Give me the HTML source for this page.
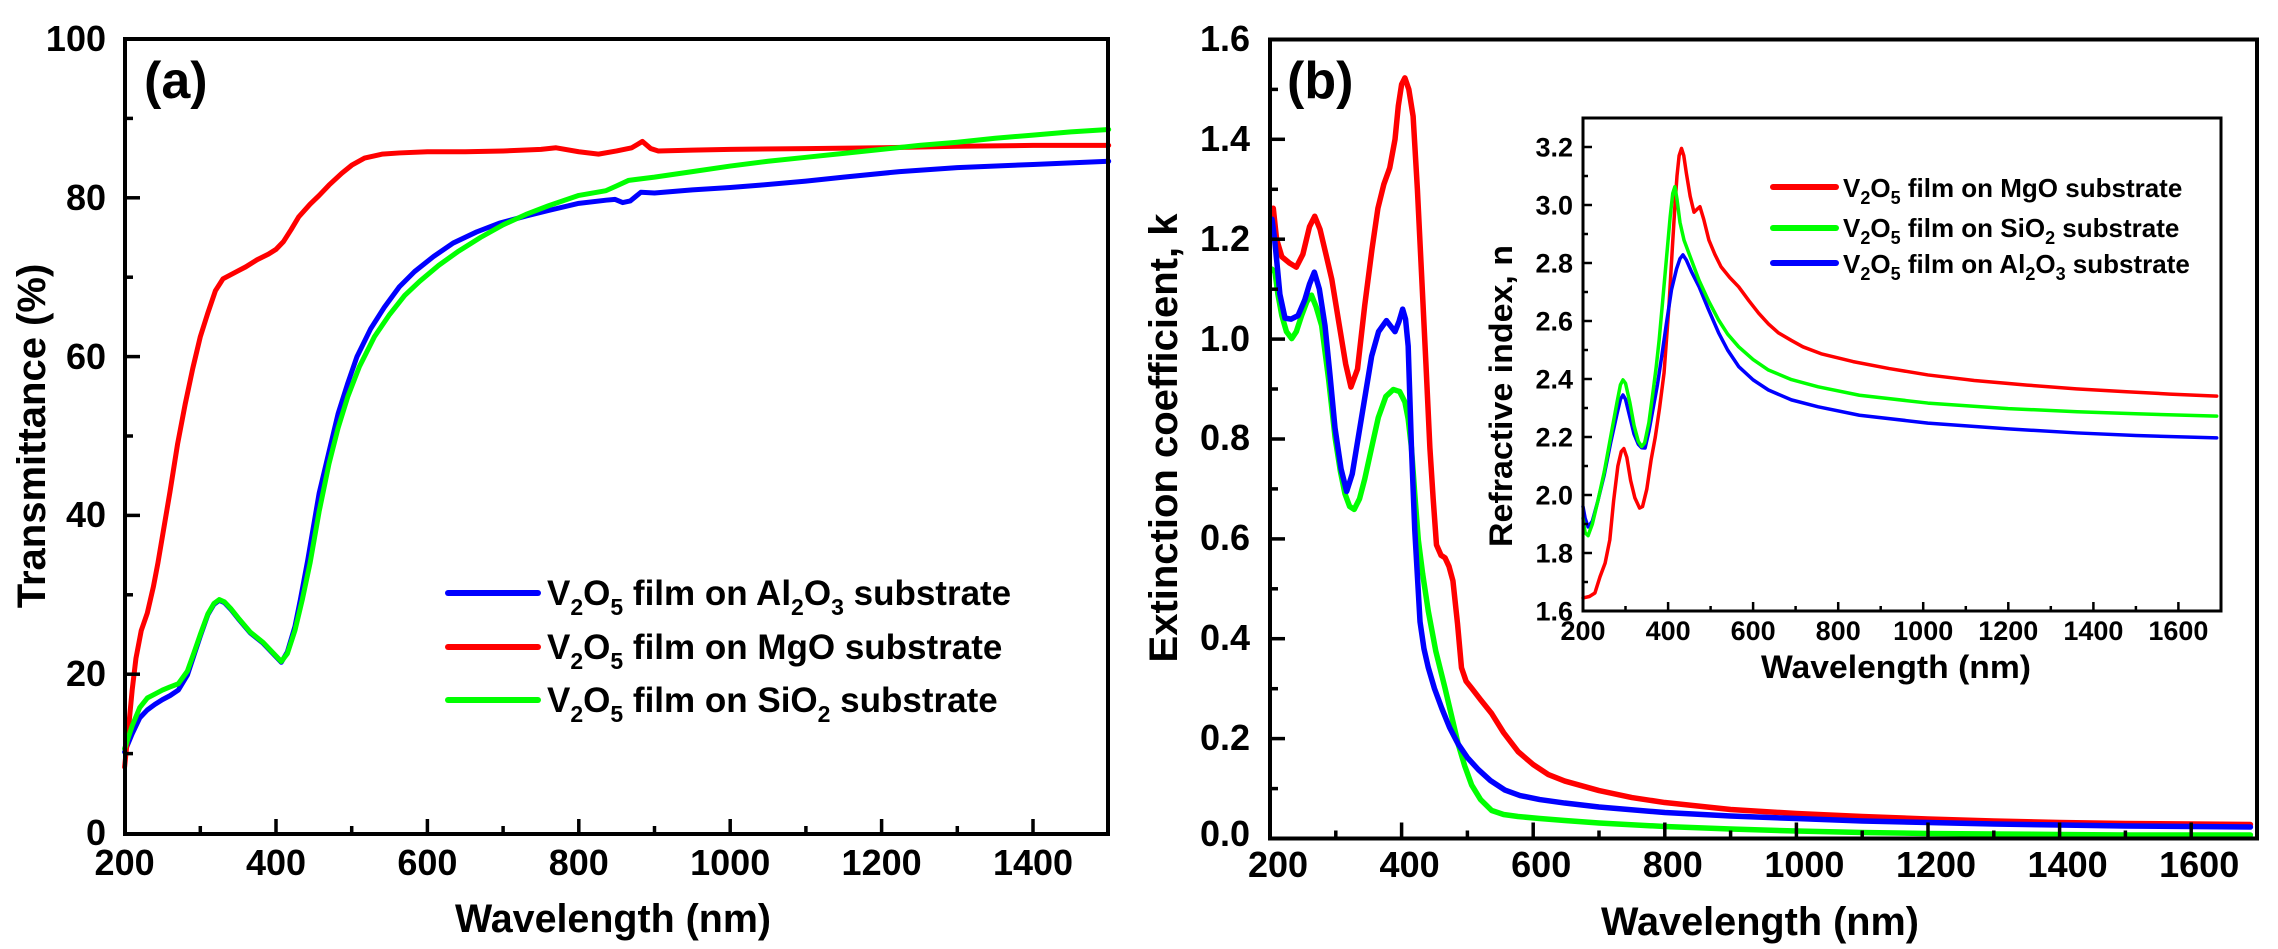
<!DOCTYPE html>
<html><head><meta charset="utf-8"><style>
html,body{margin:0;padding:0;background:#fff;}
svg{display:block;font-family:"Liberation Sans",Arial,sans-serif;font-weight:bold;}
.c{fill:none;stroke-linejoin:round;stroke-linecap:round;}
</style></head><body>
<svg width="2278" height="949" viewBox="0 0 2278 949" xmlns="http://www.w3.org/2000/svg">
<rect width="2278" height="949" fill="#fff"/>

<!-- ============ PANEL (a) ============ -->
<g transform="matrix(0.757 0 0 -7.94 -26.8 833)">
<path class="c" vector-effect="non-scaling-stroke" stroke="#0000ff" stroke-width="5" d="M200 10.2 L210 12.5 L220 14.5 L230 15.5 L240 16.2 L250 16.8 L260 17.3 L271 18 L283 19.9 L292 22.5 L300 24.8 L310 27.5 L318 28.8 L325 29.3 L332 29 L340 28.2 L350 27 L366 25.2 L383 23.9 L395 22.7 L407 21.5 L415 22.8 L425 26 L432 29.3 L442 34.4 L457 42.8 L470 48 L482 52.8 L495 56.7 L507 60 L525 63.5 L543 66.2 L563 68.8 L583 70.7 L608 72.6 L634 74.3 L665 75.7 L695 76.8 L730 77.7 L760 78.4 L800 79.3 L836 79.7 L848 79.8 L858 79.4 L868 79.6 L882 80.7 L900 80.6 L950 81 L1000 81.3 L1040 81.6 L1100 82.1 L1150 82.6 L1224 83.3 L1300 83.8 L1400 84.2 L1500 84.6"/>
<path class="c" vector-effect="non-scaling-stroke" stroke="#ff0000" stroke-width="5" d="M200 8.3 L205 13 L210 18 L215 22 L222 25.5 L230 27.7 L238 31 L244 34 L252 38.5 L260 43 L270 49 L280 54 L290 58.5 L300 62.5 L310 65.5 L320 68.3 L330 69.8 L340 70.3 L350 70.8 L360 71.3 L375 72.2 L390 72.9 L400 73.5 L410 74.5 L420 76 L430 77.6 L445 79.2 L457 80.3 L470 81.6 L487 83.1 L500 84.1 L517 85 L540 85.5 L563 85.65 L600 85.8 L650 85.8 L700 85.9 L750 86.1 L770 86.3 L800 85.8 L826 85.5 L850 85.9 L870 86.3 L884 87.1 L895 86.2 L905 85.9 L950 86 L1000 86.1 L1100 86.2 L1200 86.3 L1300 86.5 L1400 86.6 L1500 86.6"/>
<path class="c" vector-effect="non-scaling-stroke" stroke="#00ff00" stroke-width="5" d="M200 10.6 L210 13.5 L220 15.8 L230 17 L240 17.5 L250 18 L260 18.4 L271 18.8 L283 20.4 L292 22.8 L300 25 L310 27.6 L318 28.9 L325 29.4 L332 29.1 L340 28.3 L350 27.1 L366 25.3 L383 24 L395 22.8 L407 21.6 L415 22.6 L425 25.5 L435 29.5 L445 34 L457 40.5 L470 46.5 L482 51 L495 55 L510 58.7 L530 62.5 L550 65.3 L570 67.7 L590 69.5 L615 71.5 L640 73.2 L670 75 L700 76.6 L730 77.9 L760 79 L800 80.3 L836 80.9 L850 81.5 L866 82.2 L900 82.6 L950 83.3 L1000 84 L1050 84.6 L1100 85.1 L1150 85.6 L1200 86.1 L1250 86.6 L1300 87 L1350 87.5 L1400 87.9 L1450 88.3 L1500 88.6"/>
</g>
<rect x="125" y="39" width="983" height="795" fill="none" stroke="#000" stroke-width="4"/>
<g stroke="#000" stroke-width="3.5">
<line x1="200.3" y1="834" x2="200.3" y2="826"/>
<line x1="276" y1="834" x2="276" y2="819"/>
<line x1="351.7" y1="834" x2="351.7" y2="826"/>
<line x1="427.4" y1="834" x2="427.4" y2="819"/>
<line x1="503.1" y1="834" x2="503.1" y2="826"/>
<line x1="578.8" y1="834" x2="578.8" y2="819"/>
<line x1="654.5" y1="834" x2="654.5" y2="826"/>
<line x1="730.2" y1="834" x2="730.2" y2="819"/>
<line x1="805.9" y1="834" x2="805.9" y2="826"/>
<line x1="881.6" y1="834" x2="881.6" y2="819"/>
<line x1="957.3" y1="834" x2="957.3" y2="826"/>
<line x1="1033" y1="834" x2="1033" y2="819"/>
<line x1="125" y1="753.6" x2="133" y2="753.6"/>
<line x1="125" y1="674.2" x2="140" y2="674.2"/>
<line x1="125" y1="594.8" x2="133" y2="594.8"/>
<line x1="125" y1="515.4" x2="140" y2="515.4"/>
<line x1="125" y1="436" x2="133" y2="436"/>
<line x1="125" y1="356.6" x2="140" y2="356.6"/>
<line x1="125" y1="277.2" x2="133" y2="277.2"/>
<line x1="125" y1="197.8" x2="140" y2="197.8"/>
<line x1="125" y1="118.4" x2="133" y2="118.4"/>
</g>
<g font-size="36" text-anchor="middle" fill="#000">
<text x="124.6" y="875">200</text>
<text x="276" y="875">400</text>
<text x="427.4" y="875">600</text>
<text x="578.8" y="875">800</text>
<text x="730.2" y="875">1000</text>
<text x="881.6" y="875">1200</text>
<text x="1033" y="875">1400</text>
</g>
<g font-size="36" text-anchor="end" fill="#000">
<text x="106" y="845">0</text>
<text x="106" y="686">20</text>
<text x="106" y="527">40</text>
<text x="106" y="369">60</text>
<text x="106" y="210">80</text>
<text x="106" y="51">100</text>
</g>
<text x="613" y="932" font-size="40" text-anchor="middle" textLength="316" lengthAdjust="spacingAndGlyphs">Wavelength (nm)</text>
<text transform="translate(45,436) rotate(-90)" font-size="40" text-anchor="middle">Transmittance (%)</text>
<text x="144" y="98" font-size="52">(a)</text>

<g stroke-width="6" stroke-linecap="round">
<line x1="448" y1="593" x2="538" y2="593" stroke="#0000ff"/>
<line x1="448" y1="647" x2="538" y2="647" stroke="#ff0000"/>
<line x1="448" y1="700" x2="538" y2="700" stroke="#00ff00"/>
</g>
<g font-size="35" fill="#000">
<text x="547" y="605">V<tspan font-size="23" dy="10">2</tspan><tspan dy="-10">O</tspan><tspan font-size="23" dy="10">5</tspan><tspan dy="-10"> film on Al</tspan><tspan font-size="23" dy="10">2</tspan><tspan dy="-10">O</tspan><tspan font-size="23" dy="10">3</tspan><tspan dy="-10"> substrate</tspan></text>
<text x="547" y="659">V<tspan font-size="23" dy="10">2</tspan><tspan dy="-10">O</tspan><tspan font-size="23" dy="10">5</tspan><tspan dy="-10"> film on MgO substrate</tspan></text>
<text x="547" y="712">V<tspan font-size="23" dy="10">2</tspan><tspan dy="-10">O</tspan><tspan font-size="23" dy="10">5</tspan><tspan dy="-10"> film on SiO</tspan><tspan font-size="23" dy="10">2</tspan><tspan dy="-10"> substrate</tspan></text>
</g>

<!-- ============ PANEL (b) ============ -->
<g transform="matrix(0.658 0 0 -499.4 1138.4 838.5)">
<path class="c" vector-effect="non-scaling-stroke" stroke="#00ff00" stroke-width="5.5" d="M203 1.14 L207.6 1.134 L212 1.09 L218 1.047 L225 1.015 L233 1.001 L240 1.015 L248 1.047 L256 1.075 L263 1.088 L270 1.065 L278.5 1.027 L289 0.92 L299 0.802 L307 0.735 L314 0.69 L321 0.665 L328 0.659 L336 0.68 L344 0.72 L354 0.78 L364.6 0.843 L376 0.885 L387.4 0.899 L397 0.895 L405 0.874 L410 0.84 L415 0.782 L420 0.69 L425.4 0.598 L432 0.53 L440.6 0.455 L452 0.375 L466 0.301 L476 0.245 L486 0.189 L496 0.145 L506.5 0.107 L520 0.078 L537 0.056 L555 0.048 L577 0.044 L610 0.04 L648 0.036 L700 0.031 L800 0.024 L900 0.019 L1000 0.015 L1100 0.012 L1200 0.01 L1300 0.009 L1400 0.008 L1500 0.007 L1600 0.007 L1690 0.007"/>
<path class="c" vector-effect="non-scaling-stroke" stroke="#ff0000" stroke-width="5.5" d="M205 1.262 L210 1.2 L218 1.165 L230 1.152 L240 1.144 L250 1.17 L260 1.225 L268 1.246 L276 1.22 L285 1.17 L294 1.119 L305 1.03 L315 0.95 L323 0.904 L333 0.94 L344 1.068 L355 1.18 L364 1.262 L373 1.31 L382 1.343 L390 1.4 L395 1.467 L400 1.51 L405 1.523 L411 1.5 L417.5 1.446 L424 1.3 L430 1.139 L437 0.95 L443 0.782 L448 0.68 L453 0.588 L460 0.567 L466 0.562 L472 0.545 L478 0.516 L485 0.43 L491 0.342 L498 0.315 L506.5 0.301 L520 0.278 L537 0.25 L555 0.212 L577 0.174 L600 0.148 L623 0.128 L648 0.115 L700 0.096 L750 0.082 L800 0.072 L900 0.058 L1000 0.05 L1100 0.044 L1200 0.039 L1300 0.035 L1400 0.032 L1500 0.03 L1600 0.029 L1690 0.028"/>
<path class="c" vector-effect="non-scaling-stroke" stroke="#0000ff" stroke-width="5.5" d="M203 1.24 L207 1.2 L210 1.16 L215 1.09 L222.8 1.042 L232 1.04 L242.6 1.047 L252.7 1.078 L260 1.11 L267.4 1.134 L275 1.1 L283.6 1.027 L291 0.93 L298.8 0.822 L308 0.74 L316.5 0.695 L325 0.73 L334 0.802 L345 0.89 L354.5 0.966 L365 1.015 L377 1.037 L384 1.025 L390 1.015 L396 1.035 L401.6 1.06 L406 1.04 L410 0.986 L415 0.782 L420 0.618 L428 0.434 L434 0.38 L440.6 0.342 L450 0.3 L461 0.261 L473 0.222 L486 0.189 L500 0.162 L516.6 0.138 L535 0.116 L557 0.097 L580 0.086 L610 0.078 L648 0.071 L700 0.063 L800 0.052 L900 0.045 L1000 0.04 L1100 0.035 L1200 0.032 L1300 0.029 L1400 0.027 L1500 0.025 L1600 0.024 L1690 0.023"/>
</g>
<rect x="1270" y="39.5" width="987" height="799" fill="none" stroke="#000" stroke-width="4"/>
<g stroke="#000" stroke-width="3.5">
<line x1="1335.8" y1="838.5" x2="1335.8" y2="830.5"/>
<line x1="1401.6" y1="838.5" x2="1401.6" y2="822.5"/>
<line x1="1467.4" y1="838.5" x2="1467.4" y2="830.5"/>
<line x1="1533.2" y1="838.5" x2="1533.2" y2="822.5"/>
<line x1="1599" y1="838.5" x2="1599" y2="830.5"/>
<line x1="1664.8" y1="838.5" x2="1664.8" y2="822.5"/>
<line x1="1730.6" y1="838.5" x2="1730.6" y2="830.5"/>
<line x1="1796.4" y1="838.5" x2="1796.4" y2="822.5"/>
<line x1="1862.2" y1="838.5" x2="1862.2" y2="830.5"/>
<line x1="1928" y1="838.5" x2="1928" y2="822.5"/>
<line x1="1993.8" y1="838.5" x2="1993.8" y2="830.5"/>
<line x1="2059.6" y1="838.5" x2="2059.6" y2="822.5"/>
<line x1="2125.4" y1="838.5" x2="2125.4" y2="830.5"/>
<line x1="2191.2" y1="838.5" x2="2191.2" y2="822.5"/>
<line x1="1270" y1="788.6" x2="1278" y2="788.6"/>
<line x1="1270" y1="738.6" x2="1285" y2="738.6"/>
<line x1="1270" y1="688.7" x2="1278" y2="688.7"/>
<line x1="1270" y1="638.7" x2="1285" y2="638.7"/>
<line x1="1270" y1="588.8" x2="1278" y2="588.8"/>
<line x1="1270" y1="538.9" x2="1285" y2="538.9"/>
<line x1="1270" y1="488.9" x2="1278" y2="488.9"/>
<line x1="1270" y1="439" x2="1285" y2="439"/>
<line x1="1270" y1="389" x2="1278" y2="389"/>
<line x1="1270" y1="339.1" x2="1285" y2="339.1"/>
<line x1="1270" y1="289.2" x2="1278" y2="289.2"/>
<line x1="1270" y1="239.2" x2="1285" y2="239.2"/>
<line x1="1270" y1="189.3" x2="1278" y2="189.3"/>
<line x1="1270" y1="139.3" x2="1285" y2="139.3"/>
<line x1="1270" y1="89.4" x2="1278" y2="89.4"/>
</g>
<g font-size="36" text-anchor="middle" fill="#000">
<text x="1278" y="877">200</text>
<text x="1409.6" y="877">400</text>
<text x="1541.2" y="877">600</text>
<text x="1672.8" y="877">800</text>
<text x="1804.4" y="877">1000</text>
<text x="1936" y="877">1200</text>
<text x="2067.6" y="877">1400</text>
<text x="2199.2" y="877">1600</text>
</g>
<g font-size="36" text-anchor="end" fill="#000">
<text x="1250" y="846">0.0</text>
<text x="1250" y="750">0.2</text>
<text x="1250" y="650">0.4</text>
<text x="1250" y="550">0.6</text>
<text x="1250" y="450">0.8</text>
<text x="1250" y="351">1.0</text>
<text x="1250" y="251">1.2</text>
<text x="1250" y="151">1.4</text>
<text x="1250" y="51">1.6</text>
</g>
<text x="1760" y="935" font-size="40" text-anchor="middle" textLength="318" lengthAdjust="spacingAndGlyphs">Wavelength (nm)</text>
<text transform="translate(1177,438) rotate(-90)" font-size="40" text-anchor="middle">Extinction coefficient, k</text>
<text x="1287" y="98" font-size="52">(b)</text>

<!-- ============ INSET ============ -->
<g transform="matrix(0.4253 0 0 -290 1497.94 1075)">
<path class="c" vector-effect="non-scaling-stroke" stroke="#ff0000" stroke-width="3.5" d="M200 1.645 L215 1.65 L228 1.662 L240 1.718 L252 1.765 L263 1.845 L272 1.98 L282 2.1 L290 2.15 L296 2.16 L303 2.13 L312 2.05 L322 1.99 L333 1.955 L340 1.96 L350 2.02 L360 2.12 L370 2.2 L380 2.3 L390.5 2.42 L402 2.649 L410 2.85 L416 2.994 L421 3.1 L426 3.17 L431.6 3.195 L437 3.17 L443 3.11 L452 3.03 L461 2.975 L468 2.985 L475 2.994 L484 2.95 L496 2.879 L510 2.83 L524.5 2.787 L545 2.75 L566 2.718 L590 2.67 L613 2.627 L636 2.59 L659.7 2.559 L690 2.533 L717 2.511 L760 2.487 L835 2.46 L920 2.436 L1011 2.414 L1120 2.395 L1244 2.379 L1360 2.366 L1478 2.356 L1580 2.348 L1690 2.341"/>
<path class="c" vector-effect="non-scaling-stroke" stroke="#0000ff" stroke-width="3.5" d="M200 1.96 L205 1.92 L212 1.89 L222 1.91 L235 1.98 L250 2.07 L265 2.18 L280 2.28 L288 2.33 L294 2.345 L300 2.33 L310 2.27 L320 2.21 L330 2.175 L338 2.163 L346 2.162 L355 2.22 L365 2.3 L375 2.38 L385 2.477 L396 2.59 L408 2.707 L420 2.78 L428 2.815 L435 2.828 L443 2.81 L455 2.77 L473 2.718 L495 2.64 L519 2.559 L540 2.5 L566 2.443 L600 2.397 L636 2.362 L690 2.328 L753 2.304 L850 2.275 L1011 2.248 L1200 2.228 L1362 2.214 L1500 2.205 L1690 2.197"/>
<path class="c" vector-effect="non-scaling-stroke" stroke="#00ff00" stroke-width="3.5" d="M200 1.92 L205 1.87 L212 1.86 L222 1.9 L235 1.98 L250 2.08 L265 2.2 L280 2.32 L288 2.38 L294 2.397 L300 2.385 L310 2.32 L320 2.24 L330 2.185 L338 2.167 L345 2.18 L355 2.25 L365 2.36 L372 2.44 L379 2.534 L388 2.68 L396.6 2.822 L405 2.96 L411 3.04 L416 3.063 L421 3.02 L428 2.94 L437.5 2.879 L455 2.81 L472.7 2.741 L495 2.67 L519 2.603 L540 2.555 L566 2.511 L600 2.467 L636 2.431 L690 2.398 L753 2.373 L850 2.344 L1011 2.317 L1200 2.298 L1362 2.287 L1500 2.28 L1690 2.272"/>
</g>
<rect x="1583" y="118" width="638" height="493" fill="none" stroke="#000" stroke-width="3"/>
<g stroke="#000" stroke-width="2.5">
<line x1="1625.5" y1="611" x2="1625.5" y2="606"/>
<line x1="1668.1" y1="611" x2="1668.1" y2="602"/>
<line x1="1710.6" y1="611" x2="1710.6" y2="606"/>
<line x1="1753.1" y1="611" x2="1753.1" y2="602"/>
<line x1="1795.6" y1="611" x2="1795.6" y2="606"/>
<line x1="1838.2" y1="611" x2="1838.2" y2="602"/>
<line x1="1880.7" y1="611" x2="1880.7" y2="606"/>
<line x1="1923.2" y1="611" x2="1923.2" y2="602"/>
<line x1="1965.8" y1="611" x2="1965.8" y2="606"/>
<line x1="2008.3" y1="611" x2="2008.3" y2="602"/>
<line x1="2050.8" y1="611" x2="2050.8" y2="606"/>
<line x1="2093.4" y1="611" x2="2093.4" y2="602"/>
<line x1="2135.9" y1="611" x2="2135.9" y2="606"/>
<line x1="2178.4" y1="611" x2="2178.4" y2="602"/>
<line x1="1583" y1="582" x2="1588" y2="582"/>
<line x1="1583" y1="553" x2="1592" y2="553"/>
<line x1="1583" y1="524" x2="1588" y2="524"/>
<line x1="1583" y1="495" x2="1592" y2="495"/>
<line x1="1583" y1="466" x2="1588" y2="466"/>
<line x1="1583" y1="437" x2="1592" y2="437"/>
<line x1="1583" y1="408" x2="1588" y2="408"/>
<line x1="1583" y1="379" x2="1592" y2="379"/>
<line x1="1583" y1="350" x2="1588" y2="350"/>
<line x1="1583" y1="321" x2="1592" y2="321"/>
<line x1="1583" y1="292" x2="1588" y2="292"/>
<line x1="1583" y1="263" x2="1592" y2="263"/>
<line x1="1583" y1="234" x2="1588" y2="234"/>
<line x1="1583" y1="205" x2="1592" y2="205"/>
<line x1="1583" y1="176" x2="1588" y2="176"/>
<line x1="1583" y1="147" x2="1592" y2="147"/>
</g>
<g font-size="27" text-anchor="middle" fill="#000">
<text x="1583" y="640">200</text>
<text x="1668.1" y="640">400</text>
<text x="1753.1" y="640">600</text>
<text x="1838.2" y="640">800</text>
<text x="1923.2" y="640">1000</text>
<text x="2008.3" y="640">1200</text>
<text x="2093.4" y="640">1400</text>
<text x="2178.4" y="640">1600</text>
</g>
<g font-size="27" text-anchor="end" fill="#000">
<text x="1573" y="620.5">1.6</text>
<text x="1573" y="562.5">1.8</text>
<text x="1573" y="504.5">2.0</text>
<text x="1573" y="446.5">2.2</text>
<text x="1573" y="388.5">2.4</text>
<text x="1573" y="330.5">2.6</text>
<text x="1573" y="272.5">2.8</text>
<text x="1573" y="214.5">3.0</text>
<text x="1573" y="156.5">3.2</text>
</g>
<text x="1896" y="678" font-size="32" text-anchor="middle" textLength="270" lengthAdjust="spacingAndGlyphs">Wavelength (nm)</text>
<text transform="translate(1512,396) rotate(-90)" font-size="32" text-anchor="middle" textLength="302" lengthAdjust="spacingAndGlyphs">Refractive index, n</text>

<g stroke-width="6" stroke-linecap="round">
<line x1="1773" y1="187" x2="1836" y2="187" stroke="#ff0000"/>
<line x1="1773" y1="228" x2="1836" y2="228" stroke="#00ff00"/>
<line x1="1773" y1="263" x2="1836" y2="263" stroke="#0000ff"/>
</g>
<g font-size="26" fill="#000">
<text x="1843" y="197">V<tspan font-size="18" dy="7">2</tspan><tspan dy="-7">O</tspan><tspan font-size="18" dy="7">5</tspan><tspan dy="-7"> film on MgO substrate</tspan></text>
<text x="1843" y="237">V<tspan font-size="18" dy="7">2</tspan><tspan dy="-7">O</tspan><tspan font-size="18" dy="7">5</tspan><tspan dy="-7"> film on SiO</tspan><tspan font-size="18" dy="7">2</tspan><tspan dy="-7"> substrate</tspan></text>
<text x="1843" y="273">V<tspan font-size="18" dy="7">2</tspan><tspan dy="-7">O</tspan><tspan font-size="18" dy="7">5</tspan><tspan dy="-7"> film on Al</tspan><tspan font-size="18" dy="7">2</tspan><tspan dy="-7">O</tspan><tspan font-size="18" dy="7">3</tspan><tspan dy="-7"> substrate</tspan></text>
</g>
</svg>
</body></html>
